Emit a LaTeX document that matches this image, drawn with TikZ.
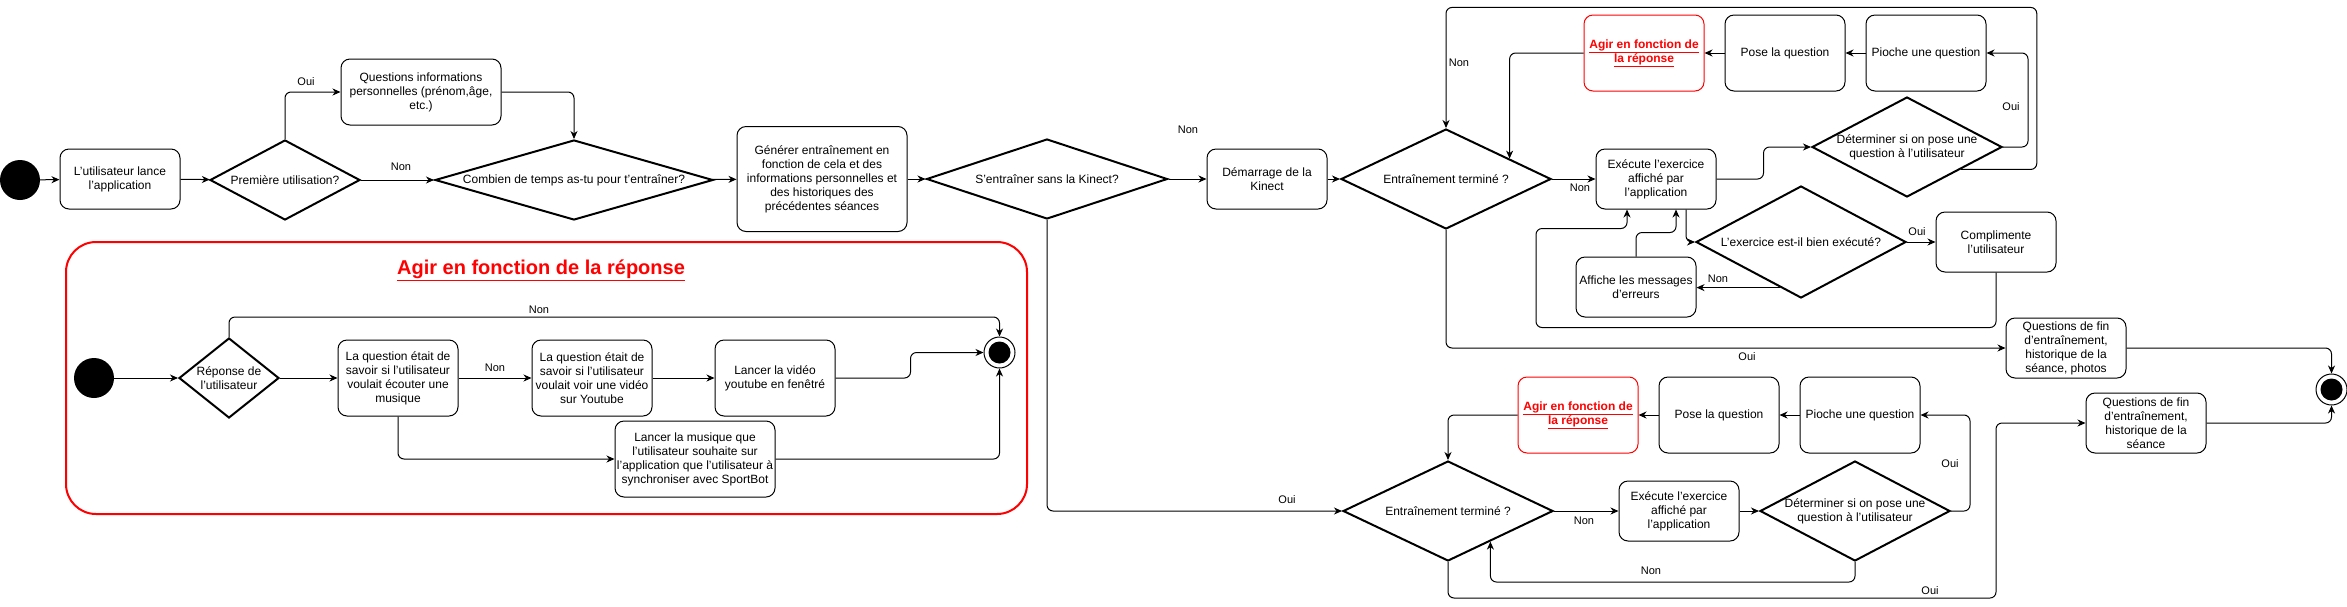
\documentclass[tikz,border=0pt]{standalone}
\usepackage{fontspec}
\setmainfont{Liberation Sans}
\usepackage{tikz}
\usetikzlibrary{shapes,arrows.meta,positioning,calc}
\tikzset{
  every node/.style={
    font=\fontsize{12}{14}\selectfont
  },
  activity/.style={
    shape=rectangle,
    rounded corners=9pt,
    draw=black,
    line width=1pt,
    fill=white,
    align=center,
    minimum width=120pt,
    minimum height=60pt,
    inner sep=1pt
  },
  reaction/.style={
    activity,
    draw=red,
    text=red,
    minimum height=76pt,
    font=\fontsize{12}{14}\selectfont\bfseries
  },
  decision/.style n args={3}{
    shape=diamond,
    draw=black,
    line width=2pt,
    fill=white,
    align=center,
    inner sep=0pt,
    minimum width=#1,
    minimum height=#2,
    aspect=#3
  },
  startdot/.style={
    shape=circle,
    fill=black,
    minimum size=40pt,
    inner sep=0pt
  },
  enddot/.style={
    shape=circle,
    draw=black,
    line width=1pt,
    fill=white,
    minimum size=31pt,
    inner sep=0pt,
    path picture={\fill[black] (path picture bounding box.center) circle (11pt);}
  },
  frame/.style={
    shape=rectangle,
    rounded corners=30pt,
    draw=red,
    line width=2pt,
    minimum width=961pt,
    minimum height=272pt
  },
  guard/.style={
    font=\fontsize{11}{13}\selectfont,
    inner sep=1pt
  },
  flowline/.style={
    -{Stealth[length=8pt,width=7pt,inset=2.5pt]},
    line width=1pt,
    rounded corners=6pt
  }
}

\begin{document}
\begin{tikzpicture}[x=1pt,y=-1pt]
  \useasboundingbox (0,0) rectangle (2347,606);

  \node [frame] (cadre) at (546.5,378) {};
  \node [text=red, font=\fontsize{20}{24}\selectfont\bfseries] (titre) at (541,270)
    {\underline{Agir en fonction de la réponse}};

  \node [startdot] (start) at (20,180) {};
  \node [activity] (lance) at (120,179) {L'utilisateur lance\\l'application};
  \node [decision={150pt}{80pt}{1.9}] (prem) at (285,180) {Première utilisation?};
  \node [activity, minimum width=160pt, minimum height=66pt] (infos) at (421,92)
    {Questions informations\\personnelles (prénom,âge,\\etc.)};
  \node [decision={278pt}{80pt}{3.5}] (combien) at (574,180) {Combien de temps as-tu pour t'entraîner?};
  \node [activity, minimum width=170pt, minimum height=105pt] (generer) at (822,179)
    {Générer entraînement en\\fonction de cela et des\\informations personnelles et\\des historiques des\\précédentes séances};
  \node [decision={241pt}{80pt}{3}] (kinect) at (1047,179) {S'entraîner sans la Kinect?};
  \node [activity] (demarrage) at (1267,179) {Démarrage de la\\Kinect};
  \node [decision={210pt}{100pt}{2.1}] (fini) at (1446,179) {Entraînement terminé ?};

  \node [activity, minimum height=76pt] (pioche) at (1926,53) {Pioche une question};
  \node [activity, minimum height=76pt, left=20pt of pioche] (pose) {Pose la question};
  \node [reaction, left=20pt of pose] (agir) {\underline{Agir en fonction de}\\\underline{la réponse}};
  \node [activity] (execute) at (1656,179) {Exécute l'exercice\\affiché par\\l'application};
  \node [decision={190pt}{100pt}{1.9}] (determ) at (1907,147) {Déterminer si on pose une\\question à l'utilisateur};
  \node [decision={210pt}{112pt}{1.9}] (bien) at (1801,242) {L'exercice est-il bien exécuté?};
  \node [activity] (compl) at (1996,242) {Complimente\\l'utilisateur};
  \node [activity] (affiche) at (1636,287) {Affiche les messages\\d'erreurs};
  \node [activity] (qfin) at (2066,348) {Questions de fin\\d'entraînement,\\historique de la\\séance, photos};
  \node [enddot] (fin) at (2331.5,389.5) {};
  \node [activity] (qfinb) at (2146,423) {Questions de fin\\d'entraînement,\\historique de la\\séance};

  \node [activity, minimum height=76pt] (piocheb) at (1860,415) {Pioche une question};
  \node [activity, minimum height=76pt, left=20pt of piocheb] (poseb) {Pose la question};
  \node [reaction, left=20pt of poseb] (agirb) {\underline{Agir en fonction de}\\\underline{la réponse}};
  \node [decision={210pt}{100pt}{2.1}] (finib) at (1448,511) {Entraînement terminé ?};
  \node [activity] (executeb) at (1679,511) {Exécute l'exercice\\affiché par\\l'application};
  \node [decision={190pt}{100pt}{1.9}] (determb) at (1855,511) {Déterminer si on pose une\\question à l'utilisateur};

  \node [startdot] (startr) at (94,378) {};
  \node [decision={100pt}{80pt}{1.25}] (reponse) at (229,378) {Réponse de\\l'utilisateur};
  \node [activity, minimum height=76pt] (musique) at (398,378)
    {La question était de\\savoir si l'utilisateur\\voulait écouter une\\musique};
  \node [activity, minimum height=76pt] (video) at (592,378)
    {La question était de\\savoir si l'utilisateur\\voulait voir une vidéo\\sur Youtube};
  \node [activity, minimum height=76pt] (lancervid) at (775,378) {Lancer la vidéo\\youtube en fenêtré};
  \node [activity, minimum width=160pt, minimum height=76pt] (lancermus) at (695,459)
    {Lancer la musique que\\l'utilisateur souhaite sur\\l'application que l'utilisateur à\\synchroniser avec SportBot};
  \node [enddot] (finr) at (999.5,352.5) {};

  \coordinate (finiNE) at ($(fini.north)!0.6!(fini.east)$);
  \coordinate (determSE) at ($(determ.east)!0.44!(determ.south)$);
  \coordinate (bienSW) at ($(bien.west)!0.8!(bien.south)$);
  \coordinate (finibSE) at ($(finib.east)!0.6!(finib.south)$);

  \draw [flowline] (start) -- (lance);
  \draw [flowline] (lance) -- (prem);
  \draw [flowline] (prem.north) |- (infos.west);
  \draw [flowline] (prem) -- (combien);
  \draw [flowline] (infos.east) -| (combien.north);
  \draw [flowline] (combien) -- (generer);
  \draw [flowline] (generer) -- (kinect);
  \draw [flowline] (kinect) -- (demarrage);
  \draw [flowline] (demarrage) -- (fini);
  \draw [flowline] (fini) -- (execute);
  \draw [flowline] (execute.east) -- ++(47,0) |- (determ.west);
  \draw [flowline] (determ.east) -- ++(25,0) |- (pioche.east);
  \draw [flowline] (pioche) -- (pose);
  \draw [flowline] (pose) -- (agir);
  \draw [flowline] (agir.west) -| (finiNE);
  \draw [flowline] (determSE) -- ++(76,0) -- ++(0,-162) -| (fini.north);
  \draw [flowline] ([xshift=30pt]execute.south) |- (bien.west);
  \draw [flowline] (bien) -- (compl);
  \draw [flowline] (bienSW) -- (bienSW -| affiche.east);
  \draw [flowline] (affiche.north) -- ++(0,-24) -| ([xshift=20pt]execute.south);
  \draw [flowline] (compl.south) |- ++(-460,55) -- ++(0,-99) -| ([xshift=-29pt]execute.south);
  \draw [flowline] (fini.south) |- (qfin.west);
  \draw [flowline] (qfin.east) -| (fin.north);

  \draw [flowline] (kinect.south) |- (finib.west);
  \draw [flowline] (finib) -- (executeb);
  \draw [flowline] (executeb) -- (determb);
  \draw [flowline] (determb.east) -- ++(19,0) |- (piocheb.east);
  \draw [flowline] (piocheb) -- (poseb);
  \draw [flowline] (poseb) -- (agirb);
  \draw [flowline] (agirb.west) -| (finib.north);
  \draw [flowline] (determb.south) -- ++(0,20) -| (finibSE);
  \draw [flowline] (finib.south) -- ++(0,36) -- ++(548,0) |- (qfinb.west);
  \draw [flowline] (qfinb.east) -| (fin.south);

  \draw [flowline] (startr) -- (reponse);
  \draw [flowline] (reponse) -- (musique);
  \draw [flowline] (musique) -- (video);
  \draw [flowline] (video) -- (lancervid);
  \draw [flowline] (lancervid.east) -- ++(75,0) |- (finr.west);
  \draw [flowline] (reponse.north) -- ++(0,-20) -| (finr.north);
  \draw [flowline] (musique.south) |- (lancermus.west);
  \draw [flowline] (lancermus.east) -| (finr.south);

  \node [guard] (ouiPrem) at (306,82) {Oui};
  \node [guard] (nonPrem) at (401,167) {Non};
  \node [guard] (nonKinect) at (1188,130) {Non};
  \node [guard] (ouiKinect) at (1287,500) {Oui};
  \node [guard] (nonFini) at (1580,188) {Non};
  \node [guard] (nonBoucle) at (1459,63) {Non};
  \node [guard] (ouiDeterm) at (2011,107) {Oui};
  \node [guard] (ouiBien) at (1917,232) {Oui};
  \node [guard] (nonBien) at (1718,279) {Non};
  \node [guard] (ouiFini) at (1747,357) {Oui};
  \node [guard] (nonFinib) at (1584,521) {Non};
  \node [guard] (ouiDetermb) at (1950,464) {Oui};
  \node [guard] (nonDetermb) at (1651,571) {Non};
  \node [guard] (ouiFinib) at (1930,591) {Oui};
  \node [guard] (nonMusique) at (495,368) {Non};
  \node [guard] (nonReponse) at (539,310) {Non};
\end{tikzpicture}
\end{document}
